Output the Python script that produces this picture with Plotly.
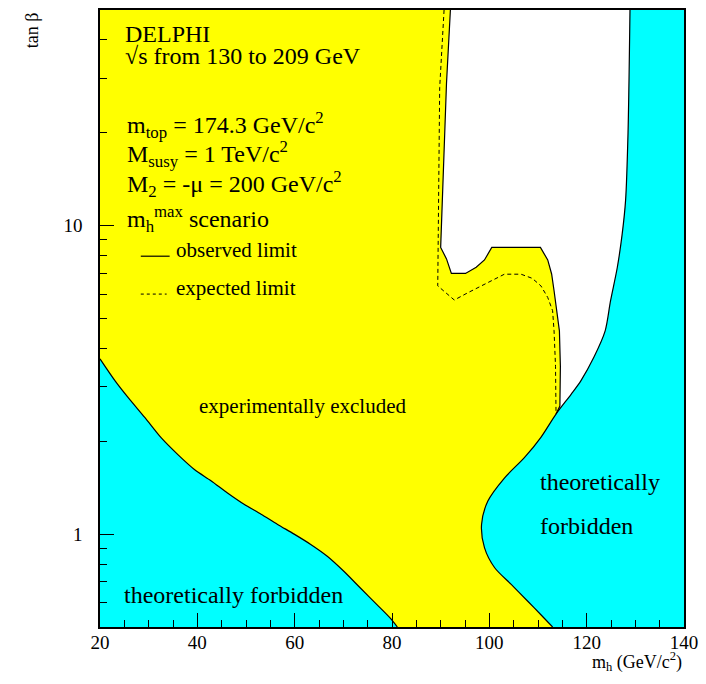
import plotly.graph_objects as go
import math

# ---------------- data ----------------
# observed exclusion limit (solid), from top of plot down to the theory boundary
obs_x = [92.0, 91.2, 90.0, 91.2, 92.2, 95.1, 97.3, 99.0, 100.5, 110.5, 112.0, 112.8, 113.3, 114.0, 114.4, 114.6, 114.5, 113.7]
obs_y = [50.0, 29.0, 8.5, 7.8, 7.0, 7.0, 7.33, 7.74, 8.5, 8.5, 7.74, 6.97, 6.15, 5.17, 4.56, 3.5, 2.6, 2.45]

# expected exclusion limit (dashed)
exp_x = [90.7, 89.8, 89.4, 92.8, 95.5, 99.5, 103.1, 106.5, 108.8, 110.6, 112.0, 113.0, 113.3, 113.6, 113.7]
exp_y = [50.0, 28.0, 6.38, 5.74, 6.05, 6.5, 6.96, 6.96, 6.75, 6.38, 5.85, 5.3, 4.56, 3.5, 2.5]

# right theoretically forbidden boundary (top -> bottom)
right_x = [128.9, 128.5, 128.0, 127.3, 126.3, 124.9, 123.8, 121.5, 118.8, 116.8, 113.7, 110.6, 107.2, 103.1, 99.7, 98.4, 99.0, 101.1, 104.5, 107.9, 110.6, 113.0]
right_y = [50.0, 20.0, 12.1, 9.4, 7.33, 5.7, 4.56, 3.75, 3.14, 2.84, 2.45, 2.06, 1.77, 1.52, 1.28, 1.075, 0.904, 0.778, 0.687, 0.606, 0.548, 0.5]

# left theoretically forbidden boundary
left_x = [20.0, 23.1, 25.8, 29.2, 32.6, 36.0, 39.4, 42.8, 46.2, 49.6, 53.1, 56.5, 59.9, 63.3, 66.7, 70.1, 73.5, 76.9, 79.6, 81.1]
left_y = [3.70, 3.14, 2.77, 2.39, 2.05, 1.81, 1.62, 1.49, 1.36, 1.25, 1.16, 1.075, 1.0, 0.926, 0.848, 0.758, 0.669, 0.591, 0.535, 0.5]

x_range = [20, 140]
y_range = [0.5, 50]
x_major = [20, 40, 60, 80, 100, 120, 140]
y_major = [1, 10]
y_major_labels = ["1", "10"]
y_minor = [0.5, 0.6, 0.7, 0.8, 0.9, 2, 3, 4, 5, 6, 7, 8, 9, 20, 30, 40, 50]

YELLOW = "#ffff00"
CYAN = "#00ffff"
FONT = "Liberation Serif, Times New Roman, Times, DejaVu Serif, serif"

# ---------------- figure ----------------
W, H = 706, 684
L, R, T, B = 100, 687, 8, 627

fig = go.Figure()

# white (allowed) region right of the observed limit (cyan drawn on top)
white_x = obs_x + [x_range[1], x_range[1]]
white_y = obs_y + [obs_y[-1], y_range[1]]
fig.add_trace(go.Scatter(x=white_x, y=white_y, fill="toself", fillcolor="white",
                         mode="lines", line=dict(width=0), hoverinfo="skip"))

# right cyan region: fill between x=140 edge and the smooth boundary
fig.add_trace(go.Scatter(x=[x_range[1]] * len(right_y), y=right_y, mode="lines",
                         line=dict(width=0), hoverinfo="skip"))
fig.add_trace(go.Scatter(x=right_x, y=right_y, mode="lines", fill="tonextx", fillcolor=CYAN,
                         line=dict(color="black", width=1.2, shape="spline", smoothing=0.8),
                         hoverinfo="skip"))

# left cyan region
fig.add_trace(go.Scatter(x=[x_range[0]] * len(left_y), y=left_y, mode="lines",
                         line=dict(width=0), hoverinfo="skip"))
fig.add_trace(go.Scatter(x=left_x, y=left_y, mode="lines", fill="tonextx", fillcolor=CYAN,
                         line=dict(color="black", width=1.2, shape="spline", smoothing=0.8),
                         hoverinfo="skip"))

# observed and expected limits
fig.add_trace(go.Scatter(x=obs_x, y=obs_y, mode="lines",
                         line=dict(color="black", width=1.2), hoverinfo="skip"))
fig.add_trace(go.Scatter(x=exp_x, y=exp_y, mode="lines",
                         line=dict(color="black", width=1, dash="4px,3px"), hoverinfo="skip"))


def px(xp):
    return (xp - L) / (R - L)


def py(yp):
    return (B - yp) / (B - T)


def text(t, xp, baseline, size, anchor="left"):
    # approximate vertical middle from baseline
    fig.add_annotation(text=t, x=px(xp), y=py(baseline - 0.3 * size), xref="paper", yref="paper",
                       xanchor=anchor, yanchor="middle", showarrow=False,
                       font=dict(family=FONT, size=size, color="black"))


text("DELPHI", 123, 39, 24)
text("√s from 130 to 209 GeV", 123, 61, 24)
text("m<sub>top</sub> = 174.3 GeV/c<sup>2</sup>", 125, 131, 24)
text("M<sub>susy</sub> = 1 TeV/c<sup>2</sup>", 125, 160, 24)
text("M<sub>2</sub> = -μ = 200 GeV/c<sup>2</sup>", 125, 190, 24)
text("m<sub>h</sub><sup>max</sup> scenario", 125, 225, 24)
text("observed limit", 174, 255, 21)
text("expected limit", 174, 293, 21)
text("experimentally excluded", 198, 412, 21)
text("theoretically forbidden", 122, 602, 24)
text("theoretically", 540, 489, 24)
text("forbidden", 540, 533, 24)

# legend line samples
fig.add_shape(type="line", xref="paper", yref="paper", x0=px(141), x1=px(170), y0=py(255), y1=py(255),
              line=dict(color="black", width=1.2))
fig.add_shape(type="line", xref="paper", yref="paper", x0=px(141), x1=px(167), y0=py(293), y1=py(293),
              line=dict(color="black", width=1, dash="3px,3px"))

# axis titles
fig.add_annotation(text="tan β", x=px(32), y=py(28), xref="paper", yref="paper", textangle=-90,
                   xanchor="center", yanchor="middle", showarrow=False,
                   font=dict(family=FONT, size=18, color="black"))
fig.add_annotation(text="m<sub>h</sub> (GeV/c<sup>2</sup>)", x=1.0, y=py(667 - 5), xref="paper", yref="paper",
                   xanchor="right", yanchor="middle", showarrow=False,
                   font=dict(family=FONT, size=18, color="black"))

fig.update_layout(
    width=W, height=H,
    margin=dict(l=L, r=W - R, t=T, b=H - B, pad=0),
    paper_bgcolor="white", plot_bgcolor=YELLOW,
    showlegend=False,
    font=dict(family=FONT, color="black"),
    xaxis=dict(range=x_range, tickvals=x_major, ticks="inside", ticklen=14, tickwidth=1,
               tickcolor="black", showgrid=False, zeroline=False,
               showline=True, linecolor="black", linewidth=1.5, mirror=True,
               ticklabelstandoff=-3,
               tickfont=dict(family=FONT, size=19, color="black"),
               minor=dict(dtick=5, tick0=20, ticks="inside", ticklen=7, tickcolor="black", showgrid=False)),
    yaxis=dict(type="log", range=[math.log10(y_range[0]), math.log10(y_range[1])],
               tickvals=y_major, ticktext=y_major_labels, ticks="inside", ticklen=14, tickwidth=1,
               tickcolor="black", showgrid=False, zeroline=False,
               showline=True, linecolor="black", linewidth=1.5, mirror=True,
               ticklabelstandoff=12,
               tickfont=dict(family=FONT, size=19, color="black"),
               minor=dict(tickvals=y_minor, ticks="inside", ticklen=7, tickcolor="black", showgrid=False)),
)

fig.write_html("out.html", config={"displayModeBar": False},
               post_script="document.body.style.margin='0';")
